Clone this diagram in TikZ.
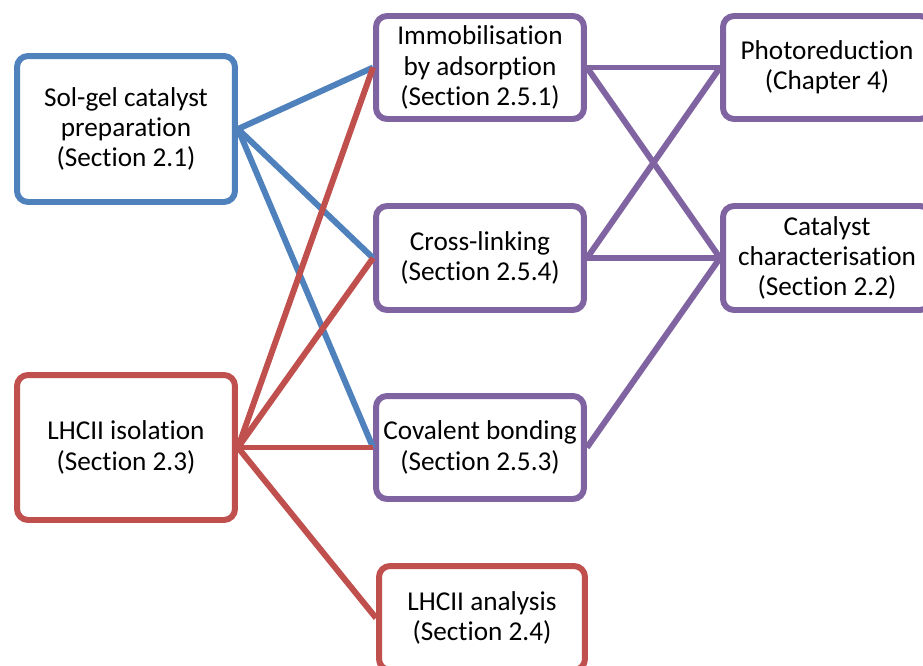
\documentclass[tikz,border=0pt]{standalone}
\usepackage{fontspec}
\setmainfont[Ligatures=NoCommon]{Carlito}
\usepackage{xcolor}
\definecolor{prepblue}{HTML}{4F81BD}
\definecolor{lhcred}{HTML}{C0504D}
\definecolor{immpurple}{HTML}{8064A2}
\tikzset{
  stagebox/.style={rectangle, rounded corners=0.22cm, draw, fill=white,
    line width=3.4pt, text=black, align=center, inner sep=0pt,
    font=\fontsize{15.5}{17.2}\selectfont},
  link/.style={line width=3.4pt}
}

\begin{document}
\begin{tikzpicture}[x=0.02cm, y=-0.02cm]
\useasboundingbox (0,0) rectangle (923,666);

% left column
\node[stagebox, draw=prepblue, minimum width=4.36cm, minimum height=2.92cm]
    (solgel) at (126,129) {Sol-gel catalyst\\preparation\\(Section 2.1)};

\node[stagebox, draw=lhcred, minimum width=4.36cm, minimum height=2.9cm]
    (lhcii) at (126,447.5) {LHCII isolation\\(Section 2.3)};

% middle column
\node[stagebox, draw=immpurple, minimum width=4.16cm, minimum height=2.06cm]
    (adsorb) at (480,67.5) {Immobilisation\\by adsorption\\(Section 2.5.1)};

\node[stagebox, draw=immpurple, minimum width=4.16cm, minimum height=2.08cm]
    (crosslink) at (480,258) {Cross-linking\\(Section 2.5.4)};

\node[stagebox, draw=immpurple, minimum width=4.16cm, minimum height=2.06cm]
    (covalent) at (480,447.5) {Covalent bonding\\(Section 2.5.3)};

\node[stagebox, draw=lhcred, minimum width=4.12cm, minimum height=2.08cm]
    (analysis) at (482,618) {LHCII analysis\\(Section 2.4)};

% right column
\node[stagebox, draw=immpurple, minimum width=4.16cm, minimum height=2.06cm]
    (photored) at (827,67.5) {Photoreduction\\(Chapter 4)};

\node[stagebox, draw=immpurple, minimum width=4.16cm, minimum height=2.08cm]
    (charact) at (827,258) {Catalyst\\characterisation\\(Section 2.2)};

% connectors
\draw[link, prepblue] (solgel.east) -- (adsorb.west);
\draw[link, prepblue] (solgel.east) -- (crosslink.west);
\draw[link, prepblue] (solgel.east) -- (covalent.west);

\draw[link, lhcred] (lhcii.east) -- (adsorb.west);
\draw[link, lhcred] (lhcii.east) -- (crosslink.west);
\draw[link, lhcred] (lhcii.east) -- (covalent.west);
\draw[link, lhcred] (lhcii.east) -- (analysis.west);

\draw[link, immpurple] (adsorb.east) -- (photored.west);
\draw[link, immpurple] (adsorb.east) -- (charact.west);
\draw[link, immpurple] (crosslink.east) -- (photored.west);
\draw[link, immpurple] (crosslink.east) -- (charact.west);
\draw[link, immpurple] (covalent.east) -- (charact.west);

\end{tikzpicture}
\end{document}
